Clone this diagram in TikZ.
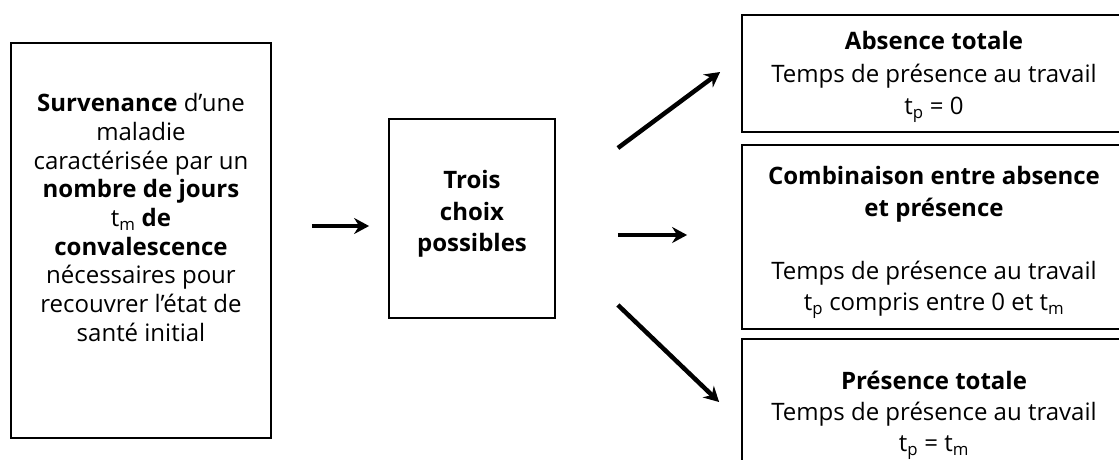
\documentclass[tikz,border=0pt]{standalone}
\usepackage{fontspec}
\setmainfont{Open Sans}
\usetikzlibrary{arrows.meta,calc}
\begin{document}
\begin{tikzpicture}[x=1pt,y=-1pt,
  boxshape/.style={draw=black, line width=1.8pt, fill=white, rectangle, inner sep=0pt},
  txt/.style={align=center, inner sep=0pt, font=\fontsize{24}{31.5}\selectfont},
  arr/.style={line width=4.5pt, -{Stealth[length=15pt,width=16pt,inset=5pt]}}]
\useasboundingbox (0,0) rectangle (1119,459);
% boxes
\node[boxshape, minimum width=260pt, minimum height=395pt] (L) at (141,240.5) {};
\node[boxshape, minimum width=166pt, minimum height=199pt] (M) at (472,218.5) {};
\node[boxshape, minimum width=384pt, minimum height=117pt] (T) at (934,73.5) {};
\node[boxshape, minimum width=384pt, minimum height=184pt] (C) at (934,237) {};
\node[boxshape, minimum width=384pt, minimum height=152pt] (B) at (934,415) {};
% texts
\node[txt, font=\fontsize{24}{28.7}\selectfont] (Ltxt) at (141,217.5)
  {\textbf{Survenance} d’une\\ maladie\\ caractérisée par un\\ \textbf{nombre de jours}\\ t\textsubscript{m} \textbf{de}\\ \textbf{convalescence}\\ nécessaires pour\\ recouvrer l’état de\\ santé initial};
\node[txt, font=\bfseries\fontsize{24}{31.7}\selectfont] (Mtxt) at (472,214) {Trois\\ choix\\ possibles};
\node[txt, font=\fontsize{24}{32.5}\selectfont] (Ttxt) at (934,77)
  {\textbf{Absence totale}\\ Temps de présence au travail\\ t\textsubscript{p} = 0};
\node[txt] (Ctxt) at (934,242.5)
  {\textbf{Combinaison entre absence}\\ \textbf{et présence}\\[31.5pt] Temps de présence au travail\\ t\textsubscript{p} compris entre 0 et t\textsubscript{m}};
\node[txt, font=\fontsize{24}{31}\selectfont] (Btxt) at (934,415.5)
  {\textbf{Présence totale}\\ Temps de présence au travail\\ t\textsubscript{p} = t\textsubscript{m}};
% connectors
\draw[arr] ($(L.east)+(40,-14.5)$) -- ($(M.west)+(-19,7.5)$);
\draw[arr] ($(M.east)+(62,-70.5)$) -- ($(T.west)+(-21,-1.5)$);
\draw[arr] ($(M.east)+(62,16.5)$) -- ($(C.west)+(-54,-2)$);
\draw[arr] ($(M.east)+(62,86.5)$) -- ($(B.west)+(-22,-13)$);
\end{tikzpicture}
\end{document}
